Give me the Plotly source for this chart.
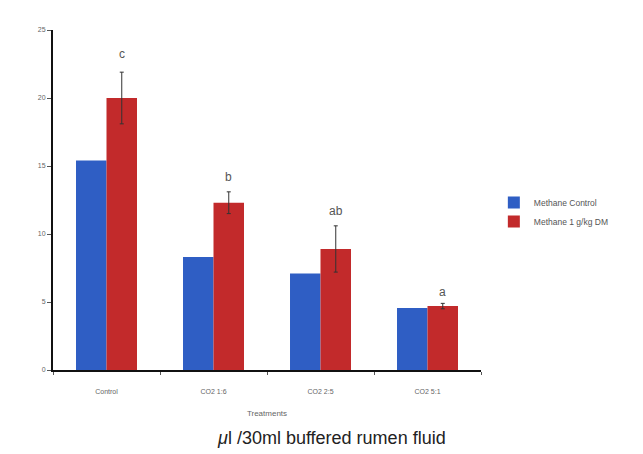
import plotly.graph_objects as go

categories = ["Control", "CO2 1:6", "CO2 2:5", "CO2 5:1"]
series_names = ["Methane Control", "Methane 1 g/kg DM"]
control_vals = [15.4, 8.3, 7.1, 4.55]
treated_vals = [20.0, 12.3, 8.9, 4.7]
treated_err = [1.9, 0.8, 1.7, 0.2]
sig_letters = ["c", "b", "ab", "a"]
letter_y = [23.2, 14.2, 11.7, 5.7]
y_ticks = [0, 5, 10, 15, 20, 25]

blue = "#2f5ec4"
red = "#c22a2b"

fig = go.Figure()
fig.add_trace(go.Bar(x=categories, y=control_vals, name=series_names[0],
                     marker=dict(color=blue, line=dict(width=0))))
fig.add_trace(go.Bar(x=categories, y=treated_vals, name=series_names[1],
                     marker=dict(color=red, line=dict(width=0)),
                     error_y=dict(type="data", array=treated_err, visible=True,
                                  color="#333333", thickness=1, width=2)))

for cat, lt, ly in zip(categories, sig_letters, letter_y):
    fig.add_annotation(x=cat, y=ly, text=lt, showarrow=False, xshift=15,
                       font=dict(family="Liberation Sans, Arial", size=12, color="#555555"))

fig.add_annotation(x=0.65, y=-0.2, xref="paper", yref="paper",
                   text="<i>μ</i>l /30ml buffered rumen fluid", showarrow=False,
                   xanchor="center", yanchor="middle",
                   font=dict(family="Liberation Sans, Arial", size=18, color="#222222"))

fig.update_layout(
    width=635, height=446,
    margin=dict(l=45, r=162, t=22, b=84),
    paper_bgcolor="white", plot_bgcolor="white",
    barmode="group", bargap=0.43, bargroupgap=0,
    showlegend=True,
    legend=dict(x=1.03, y=0.465, xanchor="left", yanchor="middle",
                font=dict(family="Liberation Sans, Arial", size=8.5, color="#555555"),
                bgcolor="rgba(0,0,0,0)", itemwidth=30),
    font=dict(family="Liberation Sans, Arial", size=8, color="#555555"),
)
fig.update_yaxes(range=[0, 25], tickvals=y_ticks, showgrid=False, zeroline=False,
                 showline=True, linecolor="#111111", linewidth=2,
                 ticks="outside", ticklen=4, tickcolor="#555555",
                 tickfont=dict(size=7, color="#666666"))
fig.update_xaxes(showgrid=False, showline=True, linecolor="#111111", linewidth=2,
                 ticks="outside", tickson="boundaries", ticklen=3, tickcolor="#555555",
                 ticklabelstandoff=14,
                 tickfont=dict(size=7, color="#666666"),
                 title=dict(text="Treatments", font=dict(size=8, color="#666666"), standoff=16))

fig.write_html("out.html")
